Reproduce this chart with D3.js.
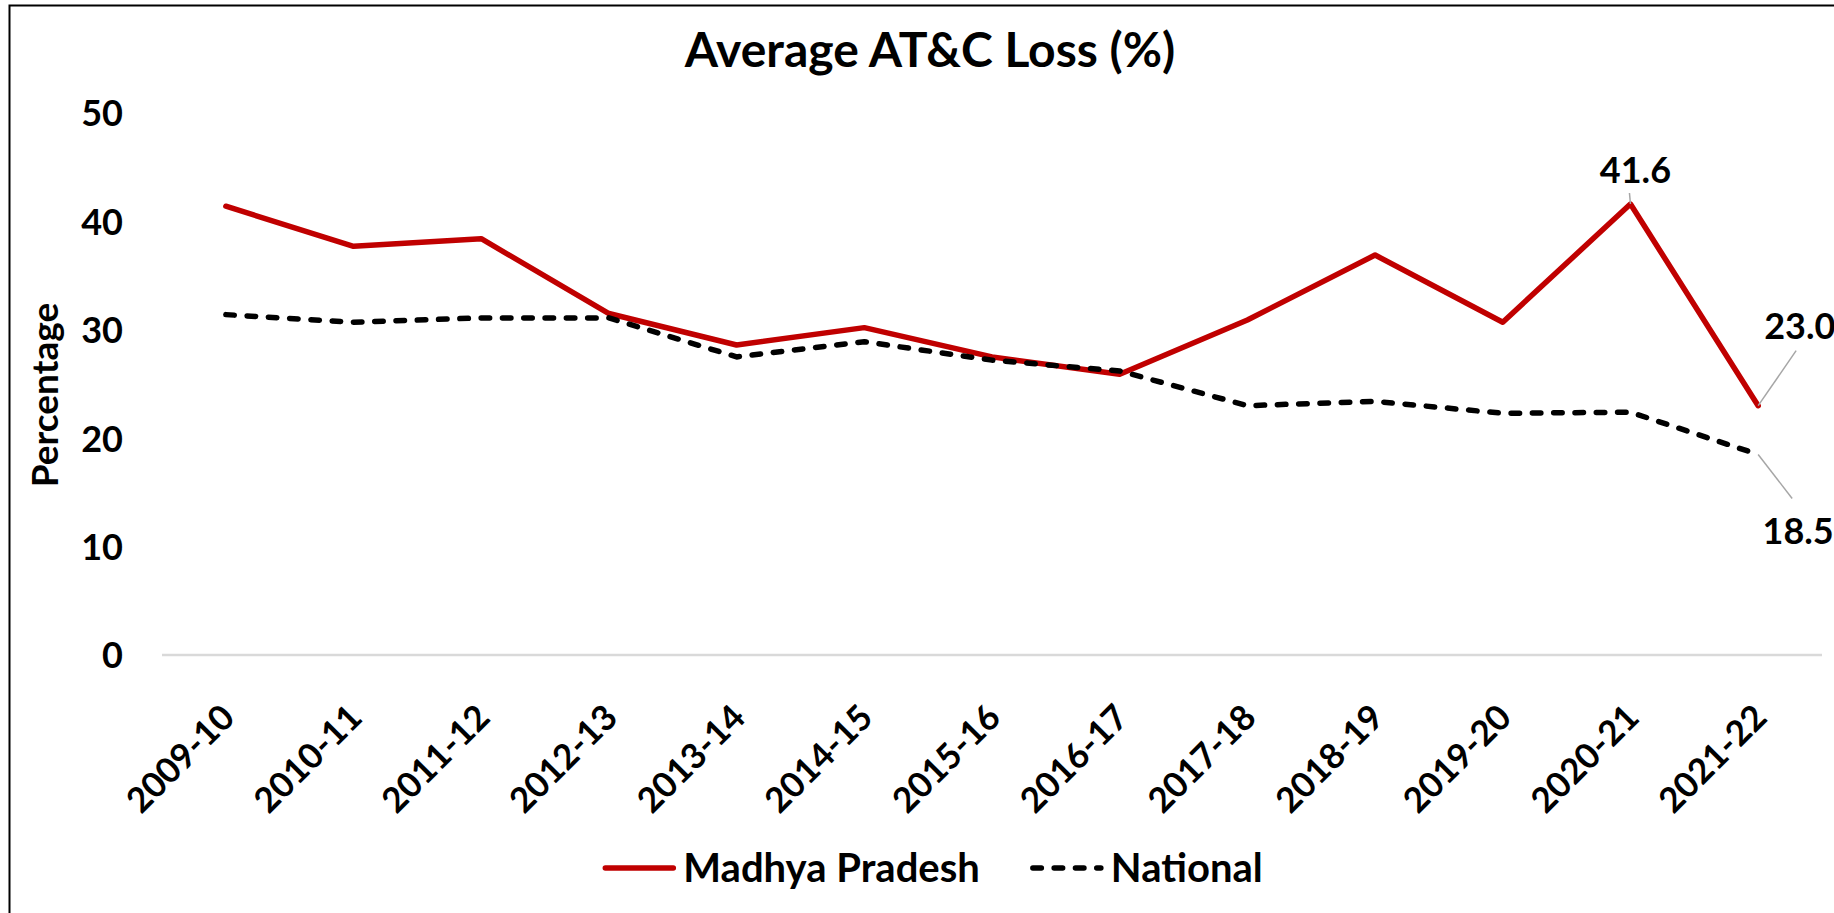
<!DOCTYPE html>
<html>
<head>
<meta charset="utf-8">
<script src="https://cdn.jsdelivr.net/npm/d3@7"></script>
<style>
  html, body { margin: 0; padding: 0; background: #ffffff; }
  svg { display: block; }
  text { font-family: Lato, "Open Sans", "Noto Sans", sans-serif; font-weight: 700; fill: #000000; }
</style>
</head>
<body>
<svg id="chart" width="1834" height="913"></svg>
<script>
// ---- data ----
const years = ["2009-10", "2010-11", "2011-12", "2012-13", "2013-14", "2014-15", "2015-16",
               "2016-17", "2017-18", "2018-19", "2019-20", "2020-21", "2021-22"];
const madhyaPradesh = [41.4, 37.7, 38.4, 31.5, 28.6, 30.2, 27.5, 25.9, 30.9, 36.9, 30.7, 41.6, 23.0];
const national      = [31.4, 30.7, 31.1, 31.1, 27.5, 28.9, 27.2, 26.2, 23.0, 23.4, 22.3, 22.4, 18.5];
const seriesNames = ["Madhya Pradesh", "National"];
const yTicks = [0, 10, 20, 30, 40, 50];
const chartTitle = "Average AT&C Loss (%)";
const yAxisTitle = "Percentage";

// ---- styles ----
const series = [
  { name: seriesNames[0], values: madhyaPradesh, color: "#C00000", dash: null },
  { name: seriesNames[1], values: national,      color: "#000000", dash: "8.5 12.8" }
];
const lineWidth = 5.5;

const svg = d3.select("#chart");
svg.append("rect").attr("width", 1834).attr("height", 913).attr("fill", "#ffffff");

// chart frame (runs past the right and bottom edges)
svg.append("rect")
  .attr("x", 9.5).attr("y", 5.5)
  .attr("width", 1900).attr("height", 1000)
  .attr("fill", "none").attr("stroke", "#000000").attr("stroke-width", 2);

// ---- scales ----
const x = d3.scaleBand().domain(years).range([162, 1822]).paddingInner(0).paddingOuter(0);
const xc = d => x(d) + x.bandwidth() / 2;
const y = d3.scaleLinear().domain([0, 50]).range([655, 113]);

// title
svg.append("text")
  .attr("x", 930).attr("y", 67)
  .attr("text-anchor", "middle")
  .style("font-size", "48px")
  .text(chartTitle);

// horizontal axis line at zero
svg.append("line")
  .attr("x1", x.range()[0]).attr("x2", x.range()[1])
  .attr("y1", y(0)).attr("y2", y(0))
  .attr("stroke", "#D9D9D9").attr("stroke-width", 2.5);

// y axis labels
const yAxis = d3.axisLeft(y).tickValues(yTicks).tickSize(0).tickPadding(0).tickFormat(d3.format("d"));
const yg = svg.append("g").attr("transform", "translate(123,0)").call(yAxis);
yg.select(".domain").remove();
yg.selectAll("text")
  .attr("dy", "0.36em")
  .style("font-size", "36px")
  .style("font-family", "Lato, 'Open Sans', sans-serif")
  .style("font-weight", 700)
  .attr("fill", "#000000");

// y axis title
svg.append("text")
  .attr("transform", "translate(58,395) rotate(-90)")
  .attr("text-anchor", "middle")
  .style("font-size", "37px")
  .text(yAxisTitle);

// x axis labels (rotated)
const xAxis = d3.axisBottom(x).tickSize(0).tickPadding(0);
const xg = svg.append("g").call(xAxis);
xg.select(".domain").remove();
xg.selectAll(".tick").attr("transform", d => `translate(${xc(d) + 2},711)`);
xg.selectAll("text")
  .attr("y", 0).attr("x", 0).attr("dy", "0.35em")
  .attr("transform", "rotate(-45)")
  .attr("text-anchor", "end")
  .style("font-size", "35px")
  .style("font-family", "Lato, 'Open Sans', sans-serif")
  .style("font-weight", 700)
  .attr("fill", "#000000");

// ---- lines ----
const line = d3.line()
  .x((d, i) => xc(years[i]))
  .y(d => y(d));

series.forEach(s => {
  const p = svg.append("path")
    .datum(s.values)
    .attr("d", line)
    .attr("fill", "none")
    .attr("stroke", s.color)
    .attr("stroke-width", lineWidth)
    .attr("stroke-linejoin", "round")
    .attr("stroke-linecap", "round");
  if (s.dash) p.attr("stroke-dasharray", s.dash);
});

// ---- data labels with leader lines ----
const callouts = [
  { s: 0, i: 11, lx: 5,  ly: -21, anchor: "middle", x2: -1, y2: -11 },
  { s: 0, i: 12, lx: 6,  ly: -67, anchor: "start",  x2: 38, y2: -55 },
  { s: 1, i: 12, lx: 40, ly: 90,  anchor: "middle", x2: 34, y2: 44 }
];
callouts.forEach(c => {
  const v = series[c.s].values[c.i];
  const px = xc(years[c.i]), py = y(v);
  svg.append("line")
    .attr("x1", px).attr("y1", py)
    .attr("x2", px + c.x2).attr("y2", py + c.y2)
    .attr("stroke", "#A6A6A6").attr("stroke-width", 1.5);
  svg.append("text")
    .attr("x", px + c.lx).attr("y", py + c.ly)
    .attr("text-anchor", c.anchor)
    .style("font-size", "36px")
    .text(v.toFixed(1));
});

// ---- legend ----
const legend = svg.append("g");
const sampleLen = 68, sampleGap = 10, itemGap = 53;
let cursor = 0;
series.forEach(s => {
  const g = legend.append("g").attr("transform", `translate(${cursor},0)`);
  const l = g.append("line")
    .attr("x1", 0).attr("x2", sampleLen).attr("y1", 0).attr("y2", 0)
    .attr("stroke", s.color).attr("stroke-width", lineWidth)
    .attr("stroke-linecap", "round");
  if (s.dash) l.attr("stroke-dasharray", s.dash);
  const t = g.append("text")
    .attr("x", sampleLen + sampleGap).attr("y", 0).attr("dy", "0.35em")
    .style("font-size", "40px")
    .text(s.name);
  cursor += sampleLen + sampleGap + t.node().getComputedTextLength() + itemGap;
});
const legendWidth = cursor - itemGap;
legend.attr("transform", `translate(${934 - legendWidth / 2},868)`);
</script>
</body>
</html>
